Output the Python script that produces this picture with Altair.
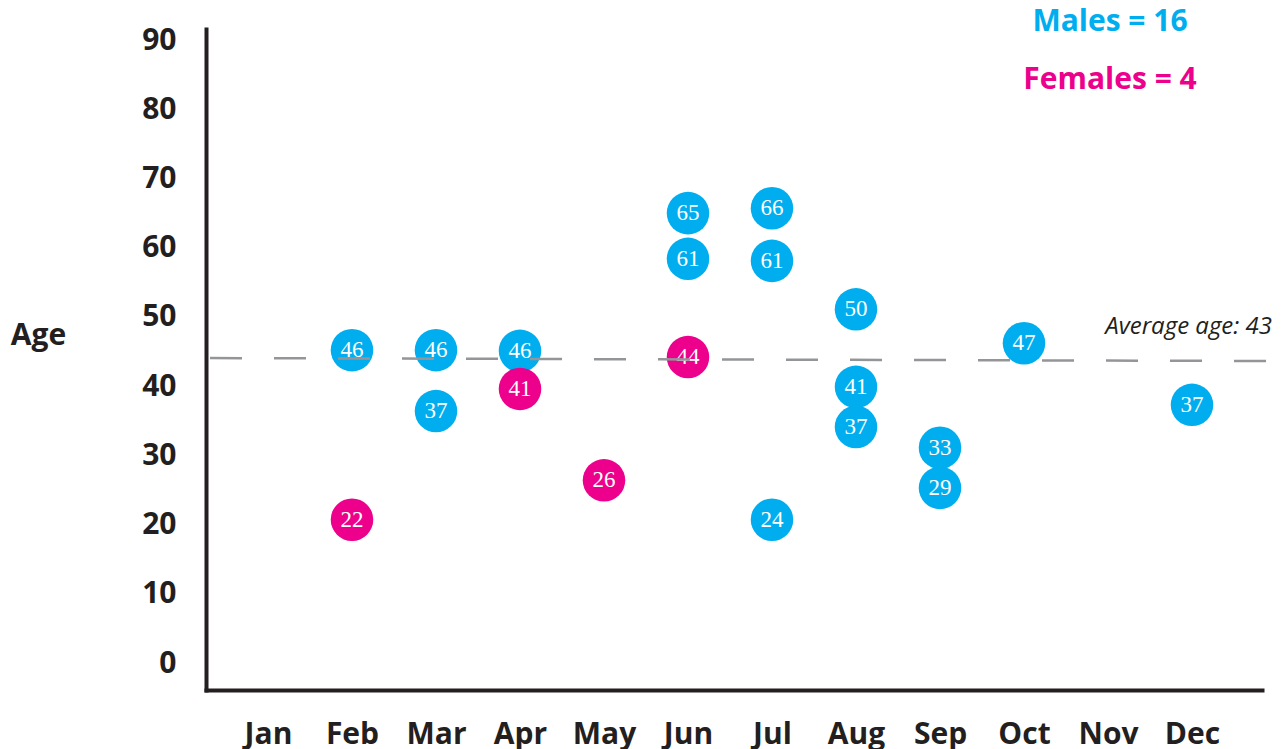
import altair as alt
import pandas as pd

# ---- data ----
months = ["Jan", "Feb", "Mar", "Apr", "May", "Jun", "Jul", "Aug", "Sep", "Oct", "Nov", "Dec"]

point_month = ["Feb", "Feb", "Mar", "Mar", "Apr", "Apr", "May", "Jun", "Jun", "Jun",
               "Jul", "Jul", "Jul", "Aug", "Aug", "Aug", "Sep", "Sep", "Oct", "Dec"]
point_age = [46, 22, 46, 37, 46, 41, 26, 65, 61, 44,
             66, 61, 24, 50, 41, 37, 33, 29, 47, 37]
point_sex = ["Males", "Females", "Males", "Males", "Males", "Females", "Females", "Males", "Males", "Females",
             "Males", "Males", "Males", "Males", "Males", "Males", "Males", "Males", "Males", "Males"]
# vertical position at which each bubble is drawn (bubbles are nudged so they do not overlap)
point_pos = [45.2, 20.7, 45.2, 36.4, 45.1, 39.6, 26.4, 65.0, 58.4, 44.2,
             65.7, 58.1, 20.7, 51.1, 39.9, 34.1, 31.1, 25.3, 46.2, 37.3]

avg_age = 43
avg_line = [44.06, 43.63]          # dashed line, left end / right end
y_ticks = [0, 10, 20, 30, 40, 50, 60, 70, 80, 90]

sexes = ["Males", "Females"]
colors = ["#00AEEF", "#EC008C"]
INK = "#231F20"

df = pd.DataFrame({"month": point_month, "age": point_age, "sex": point_sex, "pos": point_pos})
counts = {s: point_sex.count(s) for s in sexes}

legend_df = pd.DataFrame({
    "month": ["Nov", "Nov"],
    "pos": [92.64, 84.27],
    "sex": sexes,
    "label": [f"{s} = {counts[s]}" for s in sexes],
})
avg_df = pd.DataFrame({"pos": [avg_line[0]], "pos2": [avg_line[1]]})
avg_txt_df = pd.DataFrame({"month": ["Dec"], "pos": [48.58], "label": [f"Average age: {avg_age}"]})

x_scale = alt.Scale(type="point", domain=months, padding=0.7857, align=0.4697)
y_scale = alt.Scale(domain=[-3.9, 91.6], nice=False, zero=False)
c_scale = alt.Scale(domain=sexes, range=colors)

x_axis = alt.Axis(title=None, labelFont="Open Sans", labelFontSize=30, labelFontWeight="bold",
                  labelColor=INK, labelAngle=0, ticks=False, tickSize=0, labelPadding=44,
                  labelBaseline="middle", domainColor=INK, domainWidth=4, domainCap="square",
                  grid=False)
y_axis = alt.Axis(values=y_ticks, title="Age", labelFont="Open Sans", labelFontSize=30,
                  labelFontWeight="bold", labelColor=INK, ticks=False, tickSize=0, labelPadding=30,
                  domainColor=INK, domainWidth=4, domainCap="square", grid=False,
                  titleAngle=0, titleX=-168, titleY=306, titleAlign="center", titleBaseline="middle",
                  titleFont="Open Sans", titleFontSize=30, titleFontWeight="bold", titleColor=INK)

X = alt.X("month:N", scale=x_scale, axis=x_axis)
Y = alt.Y("pos:Q", scale=y_scale, axis=y_axis)

circles = alt.Chart(df).mark_circle(size=1810, opacity=1).encode(
    x=X, y=Y,
    color=alt.Color("sex:N", scale=c_scale, legend=None),
)

labels = alt.Chart(df).mark_text(font="Liberation Serif", fontSize=23, color="white",
                                 baseline="middle", align="center").encode(
    x=X, y=Y, text="age:N",
)

avg_rule = alt.Chart(avg_df).mark_rule(color="#939598", strokeWidth=2.5, strokeDash=[32, 32]).encode(
    x=alt.value(4),
    x2=alt.value(1062),
    y=Y,
    y2="pos2:Q",
)

avg_text = alt.Chart(avg_txt_df).mark_text(font="Open Sans", fontStyle="italic", fontSize=24,
                                           color=INK, align="right", baseline="middle", dx=80).encode(
    x=X, y=Y, text="label:N",
)

legend_text = alt.Chart(legend_df).mark_text(font="Open Sans", fontWeight="bold", fontSize=30,
                                             align="center", baseline="middle", dx=2).encode(
    x=X, y=Y, text="label:N",
    color=alt.Color("sex:N", scale=c_scale, legend=None),
)

chart = alt.layer(circles, labels, avg_rule, avg_text, legend_text).properties(
    width=1056,
    height=661,
    autosize=alt.AutoSizeParams(type="none"),
    padding={"left": 198, "top": 21, "right": 11, "bottom": 59},
).configure_view(stroke=None)

chart.save("out.html", embed_options={"renderer": "svg", "actions": False})
